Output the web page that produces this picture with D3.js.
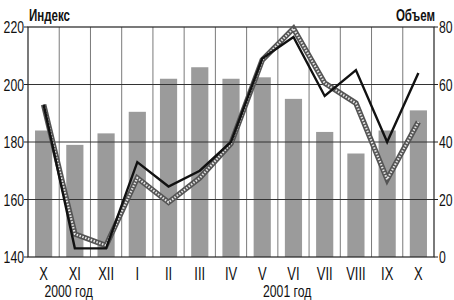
<!DOCTYPE html>
<html><head><meta charset="utf-8">
<script src="https://cdn.jsdelivr.net/npm/d3@7/dist/d3.min.js"></script>
<style>
body{margin:0;background:#fff;}
svg text{font-family:"Liberation Sans",Arial,sans-serif;fill:#111;}
</style></head>
<body><svg id="c" width="454" height="300"></svg>
<script>
const months = ["X","XI","XII","I","II","III","IV","V","VI","VII","VIII","IX","X"];
const volume = [44, 39, 43, 50.5, 62, 66, 62, 62.5, 55, 43.5, 36, 44, 51];
const indexBlack = [193, 143, 143, 173, 164.5, 170, 180, 209, 216.5, 196, 205, 180, 204];
const indexGray = [193, 148, 144, 167.5, 159, 167.5, 179.5, 208.5, 219.5, 200.5, 193.5, 167, 187];
const leftTicks = [140, 160, 180, 200, 220];
const rightTicks = [0, 20, 40, 60, 80];
const yearLabels = [{t:"2000 год", at:1}, {t:"2001 год", at:8}];

const svg = d3.select("#c");
const L = 28, R = 434, T = 27, B = 257;
const x = d3.scaleBand().domain(d3.range(months.length)).range([L, R]).padding(0);
const yL = d3.scaleLinear().domain([140, 220]).range([B, T]);
const yR = d3.scaleLinear().domain([0, 80]).range([B, T]);
const cx = i => x(i) + x.bandwidth() / 2;
const SX = 0.72;

function narrow(sel, px, py, anchor, size, weight) {
  return sel.attr("transform", (d, i) => `translate(${px(d, i)},${py(d, i)}) scale(${SX},1)`)
    .attr("text-anchor", anchor).attr("font-size", size).attr("font-weight", weight || "normal");
}

// bars
svg.append("g").selectAll("rect").data(volume).join("rect")
  .attr("x", (d, i) => x(i) + x.bandwidth() * 0.225)
  .attr("width", x.bandwidth() * 0.55)
  .attr("y", d => yR(d))
  .attr("height", d => yR(0) - yR(d))
  .attr("fill", "#9b9b9b");

// vertical grid
svg.append("g").selectAll("line").data(d3.range(1, months.length)).join("line")
  .attr("x1", i => x(i)).attr("x2", i => x(i))
  .attr("y1", T).attr("y2", B)
  .attr("stroke", "#7a7a7a").attr("stroke-width", 1);

// horizontal grid
svg.append("g").selectAll("line").data(leftTicks.slice(1, -1)).join("line")
  .attr("x1", L).attr("x2", R)
  .attr("y1", d => yL(d)).attr("y2", d => yL(d))
  .attr("stroke", "#333").attr("stroke-width", 1);

// frame
svg.append("rect").attr("x", L).attr("y", T).attr("width", R - L).attr("height", B - T)
  .attr("fill", "none").attr("stroke", "#222").attr("stroke-width", 1.2);

// tick marks
svg.append("g").selectAll("line").data(leftTicks).join("line")
  .attr("x1", L - 4).attr("x2", L).attr("y1", d => yL(d)).attr("y2", d => yL(d)).attr("stroke", "#222");
svg.append("g").selectAll("line").data(rightTicks).join("line")
  .attr("x1", R).attr("x2", R + 4).attr("y1", d => yR(d)).attr("y2", d => yR(d)).attr("stroke", "#222");

// tick labels
narrow(svg.append("g").selectAll("text").data(leftTicks).join("text"),
  d => 24, d => yL(d) + 6, "end", 17).text(d => d);
narrow(svg.append("g").selectAll("text").data(rightTicks).join("text"),
  d => 439, d => yR(d) + 6, "start", 17).text(d => d);

// month labels
narrow(svg.append("g").selectAll("text").data(months).join("text"),
  (d, i) => cx(i), d => 280, "middle", 18).text(d => d);

narrow(svg.append("g").selectAll("text").data(yearLabels).join("text"),
  d => x(d.at) + x.bandwidth() * 0.3, d => 297, "middle", 17).text(d => d.t);

// axis titles
narrow(svg.append("g").selectAll("text").data(["Индекс"]).join("text"),
  d => 29, d => 21, "start", 16, "bold").text(d => d);
narrow(svg.append("g").selectAll("text").data(["Объем"]).join("text"),
  d => 435, d => 21, "end", 16, "bold").text(d => d);

// lines
const lineL = d3.line().x((d, i) => cx(i)).y(d => yL(d));
svg.append("path").attr("d", lineL(indexGray)).attr("fill", "none")
  .attr("stroke", "#555").attr("stroke-width", 5.5).attr("stroke-linejoin", "miter");
svg.append("path").attr("d", lineL(indexGray)).attr("fill", "none")
  .attr("stroke", "#e6e6e6").attr("stroke-width", 2.2).attr("stroke-dasharray", "1.5,1.5");
svg.append("path").attr("d", lineL(indexBlack)).attr("fill", "none")
  .attr("stroke", "#111").attr("stroke-width", 2.4).attr("stroke-linejoin", "miter");
</script></body></html>
